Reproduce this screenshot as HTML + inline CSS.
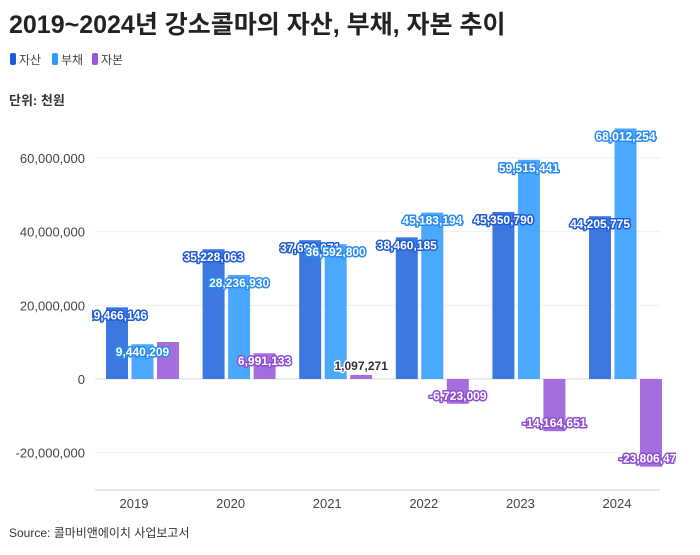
<!DOCTYPE html>
<html><head><meta charset="utf-8">
<style>
body{margin:0;background:#fff;width:700px;height:550px;overflow:hidden;font-family:"Liberation Sans","Noto Sans CJK KR",sans-serif;}
svg text{font-family:"Liberation Sans","Noto Sans CJK KR",sans-serif;}
</style></head>
<body>
<svg id="chart" width="700" height="550">
<text x="9" y="33" font-size="25" font-weight="bold" fill="#222">2019~2024년 강소콜마의 자산, 부채, 자본 추이</text>
<g>
<rect x="10" y="53" width="6" height="12" rx="2" fill="#1f5bd6"/>
<text x="19" y="64" font-size="12" fill="#444">자산</text>
<rect x="52" y="53" width="6" height="12" rx="2" fill="#3399ff"/>
<text x="61" y="64" font-size="12" fill="#444">부채</text>
<rect x="92" y="53" width="6" height="12" rx="2" fill="#9955dd"/>
<text x="101" y="64" font-size="12" fill="#444">자본</text>
</g>
<text x="9" y="105" font-size="13" font-weight="bold" fill="#333">단위: 천원</text>
<defs><clipPath id="pc"><rect x="92" y="115" width="584" height="380"/></clipPath></defs>
<g id="grid"></g>
<g id="bars"></g>
<g id="labels" clip-path="url(#pc)"></g>
<line x1="95" y1="490" x2="660" y2="490" stroke="#ccc"/>
<text x="9" y="537" font-size="12" fill="#333">Source: 콜마비앤에이치 사업보고서</text>
</svg>
<script>
const years=["2019","2020","2021","2022","2023","2024"];
const assets=[19466146,35228063,37690071,38460185,45350790,44205775];
const liabilities=[9440209,28236930,37690071-36592800+36592800-0,45183194,59515441,68012254];
liabilities[2]=36592800;
const equity=[10025937,6991133,1097271,-6723009,-14164651,-23806479];
const equityLabels=[null,"6,991,133","1,097,271","-6,723,009","-14,164,651","-23,806,479"];
const yTicks=[-20000000,0,20000000,40000000,60000000];
const NS="http://www.w3.org/2000/svg";
const y0=379, pxPer=221/60000000;
function yS(v){return y0-v*pxPer;}
function xC(i){return 142+i*96.6;}
const grid=document.getElementById('grid'),bars=document.getElementById('bars'),labels=document.getElementById('labels');
function mk(tag,attrs,parent){const e=document.createElementNS(NS,tag);for(const k in attrs)e.setAttribute(k,attrs[k]);parent.appendChild(e);return e;}
yTicks.forEach(t=>{
  const l=mk('line',{x1:95,x2:660,y1:yS(t),y2:yS(t),stroke:t===0?'#ddd':'#eee'},grid);
  
  
  const tx=mk('text',{x:85,y:yS(t)+5,'font-size':13,fill:'#444','text-anchor':'end'},grid);
  
  
  tx.textContent=t.toLocaleString('en-US');
});
const series=[{d:assets,c:'#3b78e0',s:'#1f5bd6',n:'asset'},{d:liabilities,c:'#4aa8ff',s:'#2a8af0',n:'liability'},{d:equity,c:'#a56ddd',s:'#8e4fd0',n:'equity'}];
const bw=22;
years.forEach((yr,i)=>{
  const tx=mk('text',{x:xC(i)-8,y:508,'font-size':13,fill:'#444','text-anchor':'middle'},grid);
  
  
  tx.textContent=yr;
  series.forEach((s,k)=>{
    const v=s.d[i];
    const cx=xC(i)-25+k*25.5;
    const top=Math.min(yS(v),y0),h=Math.abs(yS(v)-y0);
    const r=mk('rect',{x:cx-bw/2,y:top,width:bw,height:h,fill:s.c},bars);
    
    
    let txt=k===2?equityLabels[i]:v.toLocaleString('en-US');
    if(!txt)return;
    let ly,fill='#fff',stroke=s.s;
    if(v>=0){ly=yS(v)+12;if(h<16){ly=yS(v)-5;fill='#333';stroke='#fff';}}
    else ly=yS(v)-4;
    const t=mk('text',{x:cx,y:ly,'font-size':12,'font-weight':'bold',fill:fill,stroke:stroke,'stroke-width':3,'paint-order':'stroke','stroke-linejoin':'round','text-anchor':'middle'},labels);
    
    
    t.textContent=txt;
  });
});
</script>
</body></html>
